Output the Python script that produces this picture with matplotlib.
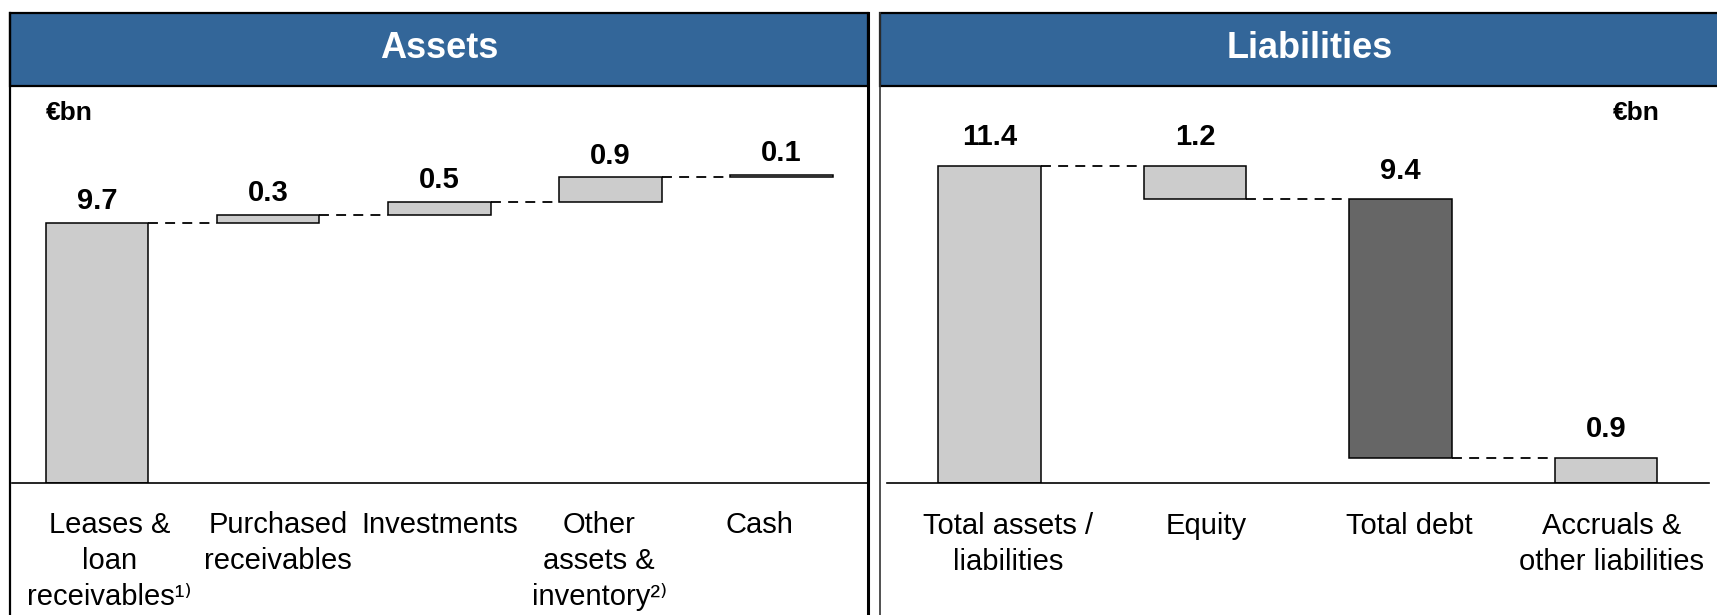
import matplotlib
matplotlib.use("Agg")
import matplotlib.pyplot as plt
from matplotlib.patches import Rectangle
from matplotlib.lines import Line2D

plt.rcParams['font.family'] = ['Liberation Sans', 'DejaVu Sans']

# ---------------- data ----------------
asset_labels = ["Leases &\nloan\nreceivables¹⁾", "Purchased\nreceivables", "Investments",
                "Other\nassets &\ninventory²⁾", "Cash"]
asset_values = [9.7, 0.3, 0.5, 0.9, 0.1]
liab_labels = ["Total assets /\nliabilities", "Equity", "Total debt", "Accruals &\nother liabilities"]
liab_values = [11.4, 1.2, 9.4, 0.9]
liab_colors = ["#cccccc", "#cccccc", "#666666", "#cccccc"]
panel_titles = ["Assets", "Liabilities"]
unit_label = "€bn"

# ---------------- layout helpers ----------------
W, H = 1717, 615
fig = plt.figure(figsize=(W / 100, H / 100), dpi=100)


def fx(x):
    return x / W


def fy(y):
    return 1 - y / H


HEADER_BLUE = "#336699"
BASE_Y = 483
TOP_Y = 86

# panel frames & headers
fig.patches.append(Rectangle((fx(10), fy(86)), fx(868) - fx(10), fy(13) - fy(86),
                             transform=fig.transFigure, facecolor=HEADER_BLUE,
                             edgecolor="black", linewidth=1.6, zorder=1))
fig.patches.append(Rectangle((fx(880), fy(86)), fx(1760) - fx(880), fy(13) - fy(86),
                             transform=fig.transFigure, facecolor=HEADER_BLUE,
                             edgecolor="black", linewidth=1.6, zorder=1))
for xline, lw, col in [(10, 1.6, "black"), (868, 2.2, "black"), (880, 1.2, "#333333")]:
    fig.lines.append(Line2D([fx(xline), fx(xline)], [fy(13), fy(H + 5)],
                            transform=fig.transFigure, color=col, linewidth=lw, zorder=2))

fig.text(fx(439), fy(49), panel_titles[0], ha="center", va="center", color="white",
         fontsize=26, fontweight="bold")
fig.text(fx(1310), fy(49), panel_titles[1], ha="center", va="center", color="white",
         fontsize=26, fontweight="bold")
fig.text(fx(46), fy(113), unit_label, ha="left", va="center", fontsize=19, fontweight="bold")
fig.text(fx(1613), fy(113), unit_label, ha="left", va="center", fontsize=19, fontweight="bold")

# ---------------- axes ----------------
axL = fig.add_axes([fx(11.5), fy(BASE_Y), fx(867) - fx(11.5), fy(TOP_Y) - fy(BASE_Y)])
axR = fig.add_axes([fx(887), fy(BASE_Y), fx(1708.6) - fx(887), fy(TOP_Y) - fy(BASE_Y)])

for ax in (axL, axR):
    ax.patch.set_visible(False)
    for s in ("top", "right", "left"):
        ax.spines[s].set_visible(False)
    ax.spines["bottom"].set_linewidth(1.2)
    ax.spines["bottom"].set_zorder(5)
    ax.set_yticks([])
    ax.set_xticks([])

axL.set_xlim(-0.5, 4.5)
axL.set_ylim(0, (BASE_Y - TOP_Y) / 26.8)
axR.set_xlim(-0.5, 3.5)
axR.set_ylim(0, (BASE_Y - TOP_Y) / 27.8)

dash = (0, (5.5, 4))

# ---- Assets waterfall ----
wL = 0.6
bottoms = []
acc = 0.0
for v in asset_values:
    bottoms.append(acc)
    acc += v
xs = list(range(len(asset_values)))
axL.bar(xs, asset_values, bottom=bottoms, width=wL, color="#cccccc",
        edgecolor="black", linewidth=1.1, zorder=3)
for i in range(len(asset_values) - 1):
    level = bottoms[i] + asset_values[i]
    axL.plot([i + wL / 2, i + 1 - wL / 2], [level, level], color="black",
             linewidth=1.3, linestyle=dash, zorder=2)
for i, v in enumerate(asset_values):
    axL.annotate(f"{v}", xy=(i, bottoms[i] + v), xytext=(0, 10), textcoords="offset points",
                 ha="center", va="baseline", fontsize=21, fontweight="bold")
asset_label_dx = [9, 7, 0, -8, -16]
for i, lab in enumerate(asset_labels):
    axL.annotate(lab, xy=(i, 0), xycoords=("data", "axes fraction"),
                 xytext=(asset_label_dx[i], -20), textcoords="offset points",
                 ha="center", va="top", fontsize=21, linespacing=1.36,
                 multialignment="center", annotation_clip=False)

# ---- Liabilities waterfall ----
wR = 0.5
total, equity, debt, accruals = liab_values
liab_bottoms = [0, total - equity, accruals, 0]
liab_tops = [total, total, total - equity, accruals]
liab_heights = [t - b for t, b in zip(liab_tops, liab_bottoms)]
xr = list(range(len(liab_values)))
axR.bar(xr, liab_heights, bottom=liab_bottoms, width=wR, color=liab_colors,
        edgecolor="black", linewidth=1.1, zorder=3)
connect_levels = [liab_tops[0], liab_bottoms[1], liab_bottoms[2]]
for i, level in enumerate(connect_levels):
    axR.plot([i + wR / 2, i + 1 - wR / 2], [level, level], color="black",
             linewidth=1.3, linestyle=dash, zorder=2)
for i, v in enumerate(liab_values):
    axR.annotate(f"{v}", xy=(i, liab_tops[i]), xytext=(0, 15), textcoords="offset points",
                 ha="center", va="baseline", fontsize=21, fontweight="bold")
liab_label_dx = [13, 8, 6, 4]
for i, lab in enumerate(liab_labels):
    axR.annotate(lab, xy=(i, 0), xycoords=("data", "axes fraction"),
                 xytext=(liab_label_dx[i], -21), textcoords="offset points",
                 ha="center", va="top", fontsize=21, linespacing=1.36,
                 multialignment="center", annotation_clip=False)

fig.savefig("out.png", dpi=100)
